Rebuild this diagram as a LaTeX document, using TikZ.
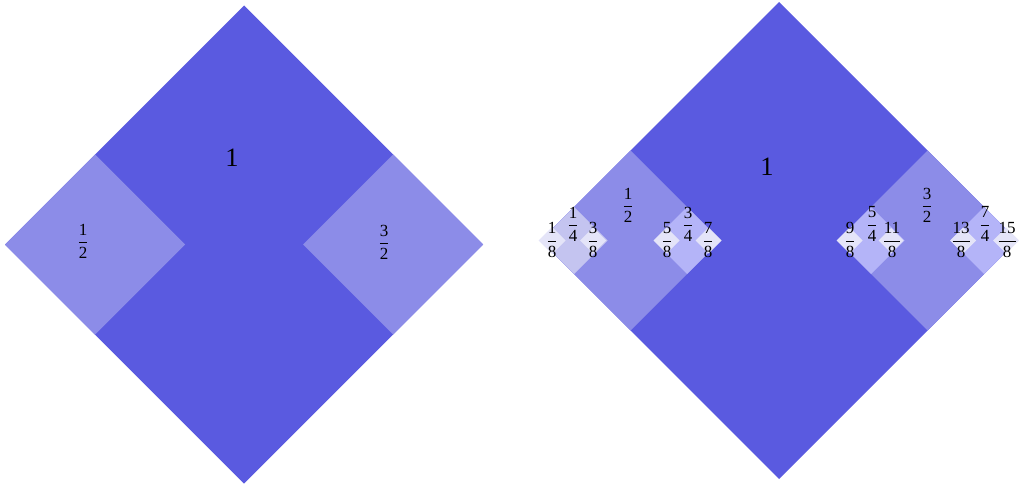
\documentclass[tikz,border=0pt]{standalone}
\usepackage{fix-cm}
\usepackage{fontspec}
\setmainfont{Liberation Serif}
\definecolor{cbig}{HTML}{5A5AE0}
\definecolor{cone}{HTML}{8C8CE8}
\definecolor{ctwoa}{HTML}{C4C4F0}
\definecolor{ctwob}{HTML}{B4B4F8}
\definecolor{cthree}{HTML}{E4E4F8}
\newcommand{\dia}[4]{\fill[#4] ({#1-#3},#2) -- (#1,{#2-#3}) -- ({#1+#3},#2) -- (#1,{#2+#3}) -- cycle;}
\newcommand{\fr}[2]{$\displaystyle\frac{\hbox{#1}}{\hbox{#2}}$}
\tikzset{
  lab/.style={inner sep=0pt, text=black, font=\fontsize{17}{20}\selectfont},
  biglab/.style={inner sep=0pt, text=black, font=\fontsize{26.5}{30}\selectfont}
}
\begin{document}
\begin{tikzpicture}[x=1pt,y=-1pt]
\useasboundingbox (0,0) rectangle (1019,484);
% left diagram
\dia{244}{244.5}{239}{cbig}
\dia{95}{244.5}{90}{cone}
\dia{393}{244.5}{90}{cone}
\node[biglab] (l1) at (232,158) {1};
\node[lab] (lhalf) at (83,241) {\fr{1}{2}};
\node[lab] (lthreehalf) at (384,242) {\fr{3}{2}};
% right diagram
\dia{779}{240.5}{238.5}{cbig}
\dia{630.5}{240.5}{90}{cone}
\dia{927.5}{240.5}{90}{cone}
\dia{574}{240.5}{33.5}{ctwoa}
\dia{687}{240.5}{33.5}{ctwob}
\dia{871}{240.5}{33.5}{ctwob}
\dia{984}{240.5}{33.5}{ctwob}
\dia{552}{240.5}{13.5}{cthree}
\dia{593}{240.5}{13}{cthree}
\dia{666.5}{240.5}{13}{cthree}
\dia{708.5}{240.5}{13}{cthree}
\dia{849.5}{240.5}{13}{cthree}
\dia{891}{240.5}{12.5}{cthree}
\dia{963}{240.5}{13}{cthree}
\dia{1006}{240.5}{13}{cthree}
\node[biglab] (r1) at (767,167) {1};
\node[lab] (rhalf) at (628,205) {\fr{1}{2}};
\node[lab] (rthreehalf) at (927,205) {\fr{3}{2}};
\node[lab] (q1) at (573,224) {\fr{1}{4}};
\node[lab] (q3) at (688,224) {\fr{3}{4}};
\node[lab] (q5) at (872,224) {\fr{5}{4}};
\node[lab] (q7) at (985,224) {\fr{7}{4}};
\node[lab] (e1) at (552,240) {\fr{1}{8}};
\node[lab] (e3) at (593,240) {\fr{3}{8}};
\node[lab] (e5) at (667,240) {\fr{5}{8}};
\node[lab] (e7) at (708,240) {\fr{7}{8}};
\node[lab] (e9) at (850,240) {\fr{9}{8}};
\node[lab] (e11) at (892,240) {\fr{11}{8}};
\node[lab] (e13) at (961,240) {\fr{13}{8}};
\node[lab] (e15) at (1007,240) {\fr{15}{8}};
\end{tikzpicture}
\end{document}
